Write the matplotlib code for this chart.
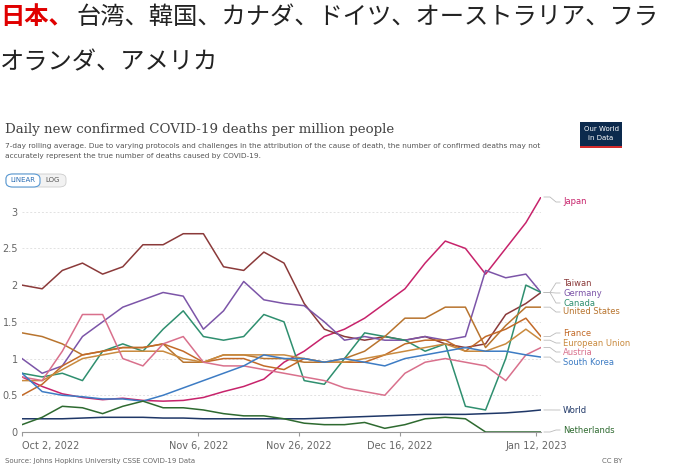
import matplotlib
matplotlib.use("Agg")
import matplotlib.pyplot as plt
import matplotlib.dates as mdates
import numpy as np
from datetime import date, timedelta
from matplotlib.patches import Rectangle, FancyBboxPatch

start = date(2022, 10, 2)
offsets = [0,4,8,12,16,20,24,28,32,36,40,44,48,52,56,60,64,68,72,76,80,84,88,92,96,100,103]
dates = [start + timedelta(days=d) for d in offsets]

series = {
 "Japan": [0.75,0.62,0.52,0.47,0.44,0.46,0.43,0.42,0.43,0.47,0.55,0.62,0.72,0.95,1.1,1.3,1.4,1.55,1.75,1.95,2.3,2.6,2.5,2.15,2.5,2.85,3.2],
 "Taiwan": [2.0,1.95,2.2,2.3,2.15,2.25,2.55,2.55,2.7,2.7,2.25,2.2,2.45,2.3,1.75,1.4,1.3,1.25,1.3,1.25,1.3,1.2,1.15,1.2,1.6,1.75,1.9],
 "Germany": [1.0,0.8,0.9,1.3,1.5,1.7,1.8,1.9,1.85,1.4,1.65,2.05,1.8,1.75,1.72,1.5,1.25,1.3,1.25,1.25,1.3,1.25,1.3,2.2,2.1,2.15,1.9],
 "Canada": [0.8,0.75,0.8,0.7,1.1,1.2,1.1,1.4,1.65,1.3,1.25,1.3,1.6,1.5,0.7,0.65,1.0,1.35,1.3,1.25,1.1,1.2,0.35,0.3,1.0,2.0,1.9],
 "United States": [1.35,1.3,1.2,1.05,1.1,1.15,1.15,1.2,0.95,0.95,1.05,1.05,1.0,1.0,0.95,0.95,1.0,1.1,1.3,1.55,1.55,1.7,1.7,1.15,1.45,1.7,1.7],
 "France": [0.5,0.65,0.9,1.05,1.1,1.15,1.15,1.2,1.1,0.95,1.0,1.0,0.9,0.85,1.0,0.95,0.95,0.95,1.05,1.2,1.25,1.25,1.1,1.3,1.4,1.55,1.3],
 "European Union": [0.7,0.7,0.85,1.0,1.05,1.1,1.1,1.1,1.0,0.95,1.05,1.05,1.05,1.05,1.0,0.95,0.95,1.0,1.05,1.1,1.15,1.2,1.1,1.1,1.2,1.4,1.25],
 "Austria": [0.75,0.7,1.1,1.6,1.6,1.0,0.9,1.2,1.3,0.95,0.9,0.9,0.85,0.8,0.75,0.7,0.6,0.55,0.5,0.8,0.95,1.0,0.95,0.9,0.7,1.05,1.15],
 "South Korea": [0.8,0.55,0.5,0.48,0.45,0.45,0.42,0.5,0.6,0.7,0.8,0.9,1.05,1.0,1.0,0.95,1.0,0.95,0.9,1.0,1.05,1.1,1.15,1.1,1.1,1.05,1.02],
 "World": [0.18,0.18,0.18,0.19,0.2,0.2,0.2,0.19,0.19,0.18,0.18,0.18,0.18,0.18,0.18,0.19,0.2,0.21,0.22,0.23,0.24,0.24,0.24,0.25,0.26,0.28,0.3],
 "Netherlands": [0.1,0.2,0.35,0.33,0.25,0.35,0.42,0.33,0.33,0.3,0.25,0.22,0.22,0.18,0.12,0.1,0.1,0.13,0.05,0.1,0.18,0.2,0.18,0.0,0.0,0.0,0.0],
}
colors = {
 "Japan": "#c7236b", "Taiwan": "#8b3a3a", "Germany": "#7c55a8", "Canada": "#2f8f6f",
 "United States": "#b8742e", "France": "#c26a28", "European Union": "#c98a3e",
 "Austria": "#d9708c", "South Korea": "#3d7cc4", "World": "#1f3767", "Netherlands": "#2e6a30",
}
label_y = {"Japan": 202, "Taiwan": 283, "Germany": 293, "Canada": 303, "United States": 312,
           "France": 333, "European Union": 343, "Austria": 352, "South Korea": 362,
           "World": 410, "Netherlands": 430}
yticks = [0, 0.5, 1, 1.5, 2, 2.5, 3]
ytick_labels = ["0", "0.5", "1", "1.5", "2", "2.5", "3"]
xtick_dates = [date(2022,10,2), date(2022,11,6), date(2022,11,26), date(2022,12,16), date(2023,1,12)]
xtick_labels = ["Oct 2, 2022", "Nov 6, 2022", "Nov 26, 2022", "Dec 16, 2022", "Jan 12, 2023"]

W, H = 675, 473
fig = plt.figure(figsize=(6.75, 4.73), dpi=100)
fig.patch.set_facecolor("white")
cjk = ["Noto Sans CJK JP", "DejaVu Sans"]
fig.text(0/W, 1-17/H, "日本、", color="#e00000", fontsize=17.5, family=cjk, va="center", weight="bold")
fig.text(76/W, 1-17/H, "台湾、韓国、カナダ、ドイツ、オーストラリア、フラ", color="#222", fontsize=17.5, family=cjk, va="center")
fig.text(0/W, 1-62/H, "オランダ、アメリカ", color="#222", fontsize=17.5, family=cjk, va="center")

fig.text(5/W, 1-130/H, "Daily new confirmed COVID-19 deaths per million people", family="DejaVu Serif",
         fontsize=9.6, color="#444", va="center")
fig.text(5/W, 1-146/H, "7-day rolling average. Due to varying protocols and challenges in the attribution of the cause of death, the number of confirmed deaths may not",
         fontsize=5.3, color="#555", va="center")
fig.text(5/W, 1-156/H, "accurately represent the true number of deaths caused by COVID-19.", fontsize=5.3, color="#555", va="center")
fig.patches.append(FancyBboxPatch((6/W, 1-187/H), 60/W, 13/H, boxstyle="round,pad=0,rounding_size=0.01",
                                  transform=fig.transFigure, fc="#f2f2f2", ec="#ccc", lw=0.6))
fig.patches.append(FancyBboxPatch((6/W, 1-187/H), 34/W, 13/H, boxstyle="round,pad=0,rounding_size=0.01",
                                  transform=fig.transFigure, fc="white", ec="#5b9bd5", lw=0.8))
fig.text(23/W, 1-180.5/H, "LINEAR", fontsize=5, color="#2d6fb5", ha="center", va="center")
fig.text(53/W, 1-180.5/H, "LOG", fontsize=5, color="#555", ha="center", va="center")
fig.patches.append(Rectangle((580/W, 1-146/H), 42/W, 24/H, transform=fig.transFigure, fc="#0c2a4d"))
fig.patches.append(Rectangle((580/W, 1-148/H), 42/W, 2/H, transform=fig.transFigure, fc="#d42b2b"))
fig.text(601/W, 1-129/H, "Our World", fontsize=5, color="white", ha="center", va="center")
fig.text(601/W, 1-138/H, "in Data", fontsize=5, color="white", ha="center", va="center")

ax = fig.add_axes([22/W, 1-432/H, 519/W, (432-197)/H])
for name, vals in series.items():
    ax.plot(dates, vals, color=colors[name], lw=1.1)
ax.set_ylim(0, 3.2)
ax.set_xlim(mdates.date2num(start), mdates.date2num(dates[-1]))
ax.set_yticks(yticks)
ax.set_yticklabels(ytick_labels)
ax.set_xticks([mdates.date2num(d) for d in xtick_dates])
ax.set_xticklabels(xtick_labels)
ax.grid(axis="y", ls=(0, (2, 2)), color="#e2e2e2", lw=0.7)
for s in ["top", "right", "left"]:
    ax.spines[s].set_visible(False)
ax.spines["bottom"].set_color("#999")
ax.tick_params(axis="y", length=0, labelsize=7, labelcolor="#666", pad=3)
ax.tick_params(axis="x", length=3, color="#999", labelsize=7, labelcolor="#666")
ax.get_xticklabels()[0].set_ha("left")
ax.set_facecolor("none")

fig.canvas.draw()
for name, vals in series.items():
    px, py = ax.transData.transform((mdates.date2num(dates[-1]), vals[-1]))
    ly = H - label_y[name]
    fig.add_artist(plt.Line2D([(px+3)/W, 550/W, 556/W, 560/W], [py/H, py/H, ly/H, ly/H],
                              color="#bbb", lw=0.6, transform=fig.transFigure))
    fig.text(563/W, ly/H, name, fontsize=6, color=colors[name], va="center")

fig.text(5/W, 1-461/H, "Source: Johns Hopkins University CSSE COVID-19 Data", fontsize=5, color="#666", va="center")
fig.text(622/W, 1-461/H, "CC BY", fontsize=5, color="#666", va="center", ha="right")
fig.savefig("out.png", dpi=100)
